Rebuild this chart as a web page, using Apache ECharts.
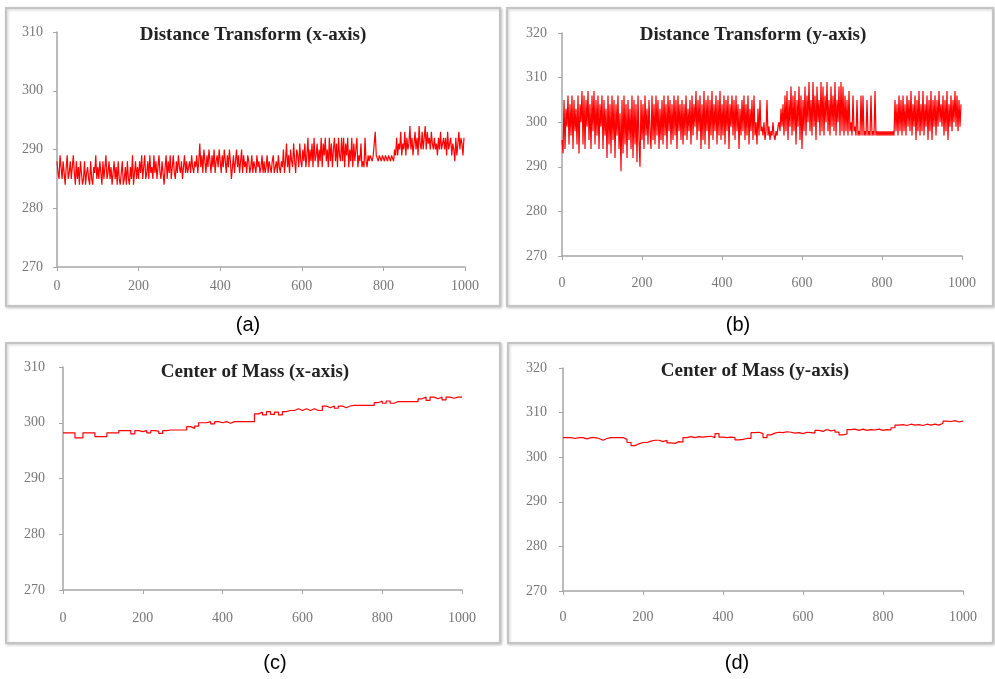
<!DOCTYPE html>
<html>
<head>
<meta charset="utf-8">
<title>Distance Transform / Center of Mass</title>
<script src="https://cdn.jsdelivr.net/npm/echarts@6/dist/echarts.min.js"></script>
<style>
  html, body { margin: 0; padding: 0; background: #fff; }
  #main { width: 995px; height: 679px; }
</style>
</head>
<body>
<div id="main"></div>
<script>
// x axis ticks (shared by all four panels)
var xTicks = [0, 200, 400, 600, 800, 1000];

// (a) Distance Transform (x-axis): one value every 2.5 frames, 0..997.5
var dtX = [
  288,286,285,289,287,285,288,286,284,287,289,285,286,288,285,287,289,286,284,288,
  285,287,284,288,286,284,285,288,284,286,287,285,284,288,285,284,287,286,289,285,
  287,285,288,286,284,288,285,287,289,285,286,288,285,287,284,286,288,285,287,284,
  288,285,284,286,288,284,285,287,284,288,285,284,287,285,289,284,286,288,285,287,
  285,288,286,289,285,287,289,285,286,288,285,289,286,287,285,289,286,288,285,287,
  289,286,285,288,286,284,287,289,285,288,286,289,285,287,289,286,285,288,286,289,
  287,286,288,285,287,289,286,288,286,287,288,286,289,287,286,288,287,289,286,288,
  291,287,289,286,290,288,286,289,287,290,288,286,289,287,290,286,288,289,287,290,
  288,286,289,287,290,288,286,289,287,290,288,285,287,289,286,288,290,287,289,286,
  288,290,286,289,287,288,286,289,288,286,287,289,286,288,287,286,289,287,288,286,
  287,289,286,288,286,287,289,286,288,287,286,288,289,286,287,288,286,289,287,286,
  288,287,290,286,288,291,287,289,286,290,288,287,291,288,286,290,289,287,291,288,
  287,290,288,291,287,289,292,287,290,288,291,287,292,288,289,291,287,290,288,292,
  287,291,289,292,288,290,287,292,288,291,287,290,292,288,291,287,292,289,288,292,
  288,292,287,291,289,292,287,290,288,292,287,291,288,290,292,287,289,288,291,287,
  288,287,292,288,287,289,288,289,289,288,289,289,293,289,289,288,289,289,288,289,
  289,288,289,289,288,289,289,288,289,289,288,290,289,292,289,291,290,293,289,291,
  290,293,289,292,290,291,294,290,292,289,291,293,290,292,289,294,291,290,293,290,
  292,294,290,293,291,292,290,293,291,290,292,290,291,289,292,290,293,290,291,292,
  290,292,289,293,290,291,292,289,291,290,288,292,289,291,293,290,292,291,289,292
];

// (b) Distance Transform (y-axis): one value every 2.5 frames, 0..997.5
var dtY = [
  296,293,305,294,303,299,306,295,304,297,306,294,305,298,303,295,306,293,304,300,
  307,295,306,294,305,299,307,296,304,294,306,298,307,295,305,297,306,294,304,299,
  306,294,305,297,303,292,306,295,304,293,306,296,305,292,304,297,306,294,302,289,
  305,293,306,295,304,292,305,296,303,294,306,292,305,295,304,291,306,296,290,305,
  296,304,294,306,297,303,295,305,298,294,306,296,304,295,306,297,305,294,303,296,
  305,295,306,297,304,294,306,298,305,295,304,296,306,297,305,294,306,298,304,296,
  305,295,304,297,306,296,303,298,305,295,306,297,304,299,307,296,305,298,306,294,
  304,296,307,295,305,298,306,294,305,297,307,296,304,298,306,295,305,297,307,296,
  304,297,306,295,305,298,306,294,304,299,306,297,305,296,306,298,304,294,303,297,
  305,298,306,296,304,297,306,295,303,298,305,296,306,297,300,295,303,297,305,298,
  299,297,300,296,298,305,297,299,296,298,297,300,297,296,298,297,299,300,298,303,
  299,304,297,306,298,307,296,305,299,308,297,306,298,307,295,305,299,308,296,306,
  294,305,298,308,297,306,300,309,298,305,297,309,299,306,296,308,300,305,297,309,
  298,308,297,306,300,309,298,305,297,308,299,306,298,309,297,305,300,308,297,309,
  298,308,297,306,298,305,297,307,298,300,297,306,298,299,297,305,297,298,297,306,
  297,306,297,298,297,305,297,298,297,306,297,298,297,307,297,298,297,298,297,298,
  297,298,297,298,297,298,297,298,297,298,297,298,297,305,298,304,297,306,298,305,
  297,306,298,304,297,306,299,305,298,307,297,304,299,306,296,305,298,307,297,304,
  298,307,297,304,299,306,296,305,298,307,296,305,299,306,297,305,299,307,300,304,
  299,306,297,305,298,307,296,304,299,306,298,305,300,307,299,306,298,305,299,304
];

// (c) Center of Mass (x-axis): one value every 10 frames, 0..1000
var comX = [
  298.2,298.2,298.2,297.3,297.3,298.2,298.2,298.2,297.5,297.5,
  297.5,298.2,298.2,298.2,298.6,298.6,298.6,298.0,298.6,298.4,
  298.6,298.2,298.6,298.5,298.1,298.6,298.7,298.7,298.7,298.7,
  298.7,299.3,299.0,299.4,300.0,300.0,300.2,299.8,300.2,300.0,
  300.2,299.9,300.2,300.2,300.2,300.2,300.2,300.2,301.6,301.9,
  301.4,302.0,301.5,301.9,301.4,302.0,302.2,302.2,302.5,302.2,
  302.5,302.2,302.5,302.2,302.2,303.0,302.7,303.0,302.6,303.0,
  302.7,303.0,303.1,303.1,303.1,303.1,303.1,303.1,303.6,303.9,
  303.5,303.9,303.5,303.8,303.8,303.8,303.8,303.8,303.8,304.3,
  304.6,304.0,304.6,304.3,304.6,304.1,304.6,304.4,304.6,304.6,304.6
];

// (d) Center of Mass (y-axis): one value every 10 frames, 0..1000
var comY = [
  304.4,304.4,304.2,304.4,304.4,304.1,304.4,304.4,304.2,303.8,
  304.2,304.4,304.4,304.4,304.4,304.0,303.3,302.6,303.0,303.3,
  303.3,303.6,303.8,303.8,303.5,303.8,303.2,303.1,303.5,303.4,
  304.4,304.6,304.4,304.6,304.5,304.6,304.7,304.4,305.3,304.5,
  304.4,304.5,304.4,303.9,304.0,304.2,304.2,305.5,305.6,305.3,
  304.4,305.0,305.4,305.6,305.5,305.7,305.6,305.4,305.5,305.3,
  305.6,305.5,305.4,306.0,305.8,306.2,305.9,306.1,305.6,305.0,
  305.2,306.2,306.3,306.0,306.3,306.0,306.2,306.1,306.3,306.0,
  306.2,306.1,306.6,307.2,307.3,307.1,307.4,307.2,307.3,307.1,
  307.4,307.2,307.4,307.2,307.6,308.1,308.0,308.2,307.9,308.1,308.1
];

var titles = ['Distance Transform (x-axis)', 'Distance Transform (y-axis)',
              'Center of Mass (x-axis)', 'Center of Mass (y-axis)'];
var captions = ['(a)', '(b)', '(c)', '(d)'];
var yMax = [310, 320, 310, 320];

// pair up frame numbers with values
function toPoints(vals, step) {
  var out = [];
  for (var i = 0; i < vals.length; i++) out.push([i * step, vals[i]]);
  return out;
}
var seriesData = [toPoints(dtX, 2.5), toPoints(dtY, 2.5), toPoints(comX, 10), toPoints(comY, 10)];

// panel layout (pixels)
var grids = [
  { left: 57,  top: 32,  width: 408, height: 235 },
  { left: 562, top: 33,  width: 400, height: 223 },
  { left: 63,  top: 367, width: 399, height: 223 },
  { left: 563, top: 368, width: 400, height: 223 }
];
var frames = [
  { x: 6,   y: 8,   w: 494, h: 298 },
  { x: 507, y: 8,   w: 486, h: 298 },
  { x: 6,   y: 343, w: 494, h: 300 },
  { x: 508, y: 343, w: 485, h: 300 }
];
var titlePos = [[253, 26], [753, 26], [255, 363], [755, 362]];
var capPos = [[248, 325], [738, 325], [275, 663], [737, 663]];
var xMargin = [12, 20, 21, 19];
var yMargin = [14, 15, 18, 16];

var serif = '"Liberation Serif", "DejaVu Serif", serif';
var axisGray = '#a6a6a6';

var chart = echarts.init(document.getElementById('main'));

var graphic = [];
frames.forEach(function (f) {
  graphic.push({
    type: 'rect', z: -10,
    shape: { x: f.x, y: f.y, width: f.w, height: f.h },
    style: { fill: '#fff', stroke: '#c4c4c4', lineWidth: 2,
             shadowBlur: 3, shadowColor: 'rgba(0,0,0,0.2)', shadowOffsetX: 1, shadowOffsetY: 1 }
  });
});
captions.forEach(function (c, i) {
  graphic.push({
    type: 'text', x: capPos[i][0], y: capPos[i][1],
    style: { text: c, fill: '#000', font: '20px "Liberation Sans", Arial, sans-serif',
             textAlign: 'center', textVerticalAlign: 'middle' }
  });
});

var option = {
  animation: false,
  backgroundColor: '#fff',
  title: titles.map(function (t, i) {
    return {
      text: t, left: titlePos[i][0], top: titlePos[i][1], textAlign: 'center', padding: 0,
      textStyle: { fontFamily: serif, fontWeight: 'bold', fontSize: 19, color: '#222' }
    };
  }),
  grid: grids,
  xAxis: grids.map(function (g, i) {
    return {
      type: 'value', gridIndex: i, min: xTicks[0], max: xTicks[xTicks.length - 1], interval: 200,
      axisLine: { lineStyle: { color: axisGray, width: 1.5 } },
      axisTick: { length: 4, lineStyle: { color: axisGray } },
      axisLabel: { margin: xMargin[i], color: '#777', fontFamily: serif, fontSize: 14,
                   formatter: function (v) { return String(v); } },
      splitLine: { show: false }
    };
  }),
  yAxis: grids.map(function (g, i) {
    return {
      type: 'value', gridIndex: i, min: 270, max: yMax[i], interval: 10,
      axisLine: { show: true, lineStyle: { color: axisGray, width: 1.5 } },
      axisTick: { show: true, length: 4, lineStyle: { color: axisGray } },
      axisLabel: { margin: yMargin[i], color: '#777', fontFamily: serif, fontSize: 14 },
      splitLine: { show: false }
    };
  }),
  series: seriesData.map(function (d, i) {
    return {
      type: 'line', xAxisIndex: i, yAxisIndex: i, data: d,
      step: i >= 2 ? 'end' : false,
      showSymbol: false, silent: true,
      lineStyle: { color: '#ff0000', width: 1.2 }
    };
  }),
  graphic: graphic
};

chart.setOption(option);
</script>
</body>
</html>
